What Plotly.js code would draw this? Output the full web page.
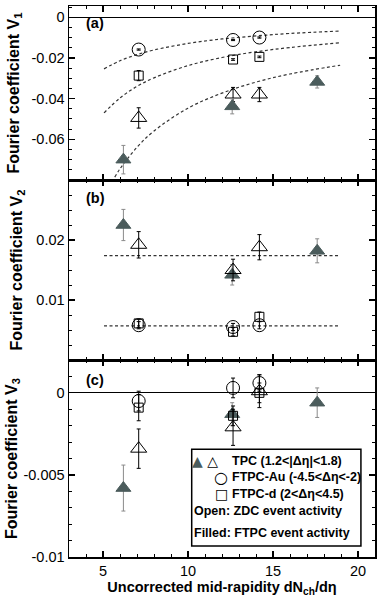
<!DOCTYPE html>
<html>
<head>
<meta charset="utf-8">
<script src="https://cdn.plot.ly/plotly-3.0.1.min.js"></script>
<style>html,body{margin:0;padding:0;background:#fff;}#chart{width:384px;height:600px;}</style>
</head>
<body>
<div id="chart"></div>
<script>
// ---- data ----
const filledX = [6.2, 12.6, 17.6];          // TPC, FTPC event activity
const openX = [7.1, 12.65, 14.2];           // ZDC event activity

const v1TpcFilled = [-0.0700, -0.0438, -0.0318];
const v1TpcFilledErr = [0.0070, 0.0037, 0.0030];
const v1TpcOpen = [-0.0495, -0.0380, -0.0380];
const v1TpcOpenErr = [0.0050, 0.0035, 0.0035];
const v1Au = [-0.0159, -0.0112, -0.0100];
const v1AuErr = [0.0003, 0.0003, 0.0003];
const v1D = [-0.0287, -0.0208, -0.0195];
const v1DErr = [0.0025, 0.0004, 0.0004];

const v2TpcFilled = [0.0225, 0.0142, 0.0182];
const v2TpcFilledErr = [0.0026, 0.0017, 0.0020];
const v2TpcOpen = [0.0192, 0.0150, 0.0188];
const v2TpcOpenErr = [0.0022, 0.0018, 0.0021];
const v2Au = [0.0058, 0.0055, 0.0058];
const v2AuErr = [0.0006, 0.0006, 0.0006];
const v2D = [0.0061, 0.0047, 0.0072];
const v2DErr = [0.0007, 0.0007, 0.0008];

const v3TpcFilled = [-0.0058, -0.0013, -0.0006];
const v3TpcFilledErr = [0.0014, 0.0007, 0.0009];
const v3TpcOpen = [-0.0034, -0.0021, 0.0001];
const v3TpcOpenErr = [0.0012, 0.0011, 0.0010];
const v3Au = [-0.0005, 0.0003, 0.0006];
const v3AuErr = [0.0006, 0.0006, 0.0005];
const v3D = [-0.0009, -0.0014, 0.0000];
const v3DErr = [0.0008, 0.0006, 0.0006];

// dashed fit curves in panel (a)
const fitX = [5.06, 6, 7, 8, 10, 12, 14, 16, 18.95];
const fitAu = [-0.0254, -0.0214, -0.0184, -0.0161, -0.0129, -0.0107, -0.0092, -0.0080, -0.0068];
const fitD = [-0.0470, -0.0397, -0.0340, -0.0298, -0.0238, -0.0198, -0.0170, -0.0149, -0.0126];
const fitTpcX = [5.69, 6, 7, 8, 10, 12, 14, 16, 18.95];
const fitTpc = [-0.0786, -0.0745, -0.0639, -0.0559, -0.0447, -0.0373, -0.0319, -0.0279, -0.0236];
// constant fits in panel (b)
const constX = [5.06, 18.95];
const constTpc = [0.0174, 0.0174];
const constFtpc = [0.0057, 0.0057];

// tick labels
const xTicks = [5, 10, 15, 20];
const y1Ticks = [0, -0.02, -0.04, -0.06];
const y1Text = ['0', '-0.02', '-0.04', '-0.06'];
const y2Ticks = [0.01, 0.02];
const y2Text = ['0.01', '0.02'];
const y3Ticks = [0, -0.005, -0.01];
const y3Text = ['0', '-0.005', '-0.01'];

// ---- styling ----
const FONT = 'Liberation Sans, Arial, Helvetica, sans-serif';
const FILL = '#4b5c5c';
const ERRGRAY = '#8a8a8a';

function fitTrace(x, y, xa, ya, shape) {
  return {x: x, y: y, xaxis: xa, yaxis: ya, mode: 'lines', type: 'scatter',
    line: {color: '#333', width: 1.2, dash: '3px,2.5px', shape: shape || 'linear'},
    hoverinfo: 'skip', showlegend: false};
}
function pts(x, y, err, xa, ya, symbol, size, color, errColor) {
  return {x: x, y: y, xaxis: xa, yaxis: ya, mode: 'markers', type: 'scatter',
    error_y: {type: 'data', array: err, visible: true, color: errColor, thickness: 1, width: 2},
    marker: {symbol: symbol, size: size, color: color, line: {width: 1, color: color}},
    showlegend: false};
}

const traces = [
  // panel (a): x3 / y3
  fitTrace(fitX, fitAu, 'x3', 'y3', 'spline'),
  fitTrace(fitX, fitD, 'x3', 'y3', 'spline'),
  fitTrace(fitTpcX, fitTpc, 'x3', 'y3', 'spline'),
  pts(openX, v1Au, v1AuErr, 'x3', 'y3', 'circle-open', 13, '#000', '#000'),
  pts(openX, v1D, v1DErr, 'x3', 'y3', 'square-open', 9, '#000', '#000'),
  pts(openX, v1TpcOpen, v1TpcOpenErr, 'x3', 'y3', 'triangle-up-open', 14, '#000', '#000'),
  pts(filledX, v1TpcFilled, v1TpcFilledErr, 'x3', 'y3', 'triangle-up', 13, FILL, ERRGRAY),
  // panel (b): x2 / y2
  fitTrace(constX, constTpc, 'x2', 'y2'),
  fitTrace(constX, constFtpc, 'x2', 'y2'),
  pts(filledX, v2TpcFilled, v2TpcFilledErr, 'x2', 'y2', 'triangle-up', 13, FILL, ERRGRAY),
  pts(openX, v2Au, v2AuErr, 'x2', 'y2', 'circle-open', 13, '#000', '#000'),
  pts(openX, v2D, v2DErr, 'x2', 'y2', 'square-open', 9, '#000', '#000'),
  pts(openX, v2TpcOpen, v2TpcOpenErr, 'x2', 'y2', 'triangle-up-open', 14, '#000', '#000'),
  // panel (c): x / y
  pts(filledX, v3TpcFilled, v3TpcFilledErr, 'x', 'y', 'triangle-up', 13, FILL, ERRGRAY),
  pts(openX, v3TpcOpen, v3TpcOpenErr, 'x', 'y', 'triangle-up-open', 14, '#000', '#000'),
  pts(openX, v3Au, v3AuErr, 'x', 'y', 'circle-open', 13, '#000', '#000'),
  pts(openX, v3D, v3DErr, 'x', 'y', 'square-open', 9, '#000', '#000')
];

const dA = [0.6842, 1.0], dB = [0.3575, 0.6842], dC = [0, 0.3575];

function xAxis(showLabels, anchor) {
  return {range: [3, 21], anchor: anchor, tickvals: xTicks, ticktext: xTicks.map(String),
    showticklabels: showLabels, ticks: 'inside', ticklen: 6, tickwidth: 1.2, tickcolor: '#000',
    minor: {dtick: 1, ticks: 'inside', ticklen: 3, tickwidth: 1, tickcolor: '#000', showgrid: false},
    showline: true, linecolor: '#000', linewidth: 1.5, mirror: 'allticks',
    showgrid: false, zeroline: false, tickfont: {family: FONT, size: 14.5, color: '#000'}};
}
function yAxis(domain, range, tv, tt, minorDt, title, standoff, anchor) {
  return {domain: domain, range: range, anchor: anchor, tickvals: tv, ticktext: tt,
    ticks: 'inside', ticklen: 6, tickwidth: 1.2, tickcolor: '#000',
    minor: {dtick: minorDt, tick0: 0, ticks: 'inside', ticklen: 3, tickwidth: 1, tickcolor: '#000', showgrid: false},
    showline: true, linecolor: '#000', linewidth: 1.5, mirror: 'allticks',
    showgrid: false, zeroline: true, zerolinecolor: '#000', zerolinewidth: 1,
    tickfont: {family: FONT, size: 14.5, color: '#000'},
    title: {text: title, standoff: standoff, font: {family: FONT, size: 16, color: '#000', weight: 'bold'}}};
}

const layout = {
  width: 384, height: 600,
  margin: {l: 69, r: 9, t: 6, b: 43},
  paper_bgcolor: '#fff', plot_bgcolor: '#fff',
  showlegend: false,
  xaxis: Object.assign(xAxis(true, 'y'), {
    title: {text: 'Uncorrected mid-rapidity dN<sub>ch</sub>/dη', standoff: 4,
      font: {family: FONT, size: 14.5, color: '#000', weight: 'bold'}}}),
  xaxis2: Object.assign(xAxis(false, 'y2'), {matches: 'x'}),
  xaxis3: Object.assign(xAxis(false, 'y3'), {matches: 'x'}),
  yaxis: yAxis(dC, [-0.01, 0.002], y3Ticks, y3Text, 0.001, 'Fourier coefficient V<sub>3</sub>', 2, 'x'),
  yaxis2: yAxis(dB, [0, 0.03], y2Ticks, y2Text, 0.0025, 'Fourier coefficient V<sub>2</sub>', 10, 'x2'),
  yaxis3: yAxis(dA, [-0.08, 0.0055], y1Ticks, y1Text, 0.005, 'Fourier coefficient V<sub>1</sub>', 8, 'x3'),
  shapes: [
    {type: 'rect', xref: 'paper', yref: 'paper', x0: 0.401, x1: 0.954, y0: 0.020, y1: 0.1955,
      line: {color: '#000', width: 1.5}, fillcolor: '#fff', layer: 'above'}
  ],
  annotations: [
    {text: '<b>(a)</b>', xref: 'paper', yref: 'paper', x: 0.05, y: 0.969, xanchor: 'left', yanchor: 'middle', showarrow: false, font: {family: FONT, size: 14.5, color: '#000'}},
    {text: '<b>(b)</b>', xref: 'paper', yref: 'paper', x: 0.05, y: 0.651, xanchor: 'left', yanchor: 'middle', showarrow: false, font: {family: FONT, size: 14.5, color: '#000'}},
    {text: '<b>(c)</b>', xref: 'paper', yref: 'paper', x: 0.05, y: 0.321, xanchor: 'left', yanchor: 'middle', showarrow: false, font: {family: FONT, size: 14.5, color: '#000'}},
    // legend
    {text: '<span style="color:' + FILL + '">▲</span> △', xref: 'paper', yref: 'paper', x: 0.396, y: 0.1745, xanchor: 'left', yanchor: 'middle', showarrow: false, font: {family: 'DejaVu Sans', size: 14, color: '#000'}},
    {text: '○', xref: 'paper', yref: 'paper', x: 0.466, y: 0.1445, xanchor: 'left', yanchor: 'middle', showarrow: false, font: {family: 'DejaVu Sans', size: 16, color: '#000'}},
    {text: '□', xref: 'paper', yref: 'paper', x: 0.47, y: 0.114, xanchor: 'left', yanchor: 'middle', showarrow: false, font: {family: 'DejaVu Sans', size: 14, color: '#000'}},
    {text: '<b>TPC (1.2<|Δη|<1.8)</b>', xref: 'paper', yref: 'paper', x: 0.526, y: 0.1745, xanchor: 'left', yanchor: 'middle', showarrow: false, font: {family: FONT, size: 12.5, color: '#000'}},
    {text: '<b>FTPC-Au (-4.5<Δη<-2)</b>', xref: 'paper', yref: 'paper', x: 0.526, y: 0.1445, xanchor: 'left', yanchor: 'middle', showarrow: false, font: {family: FONT, size: 12.5, color: '#000'}},
    {text: '<b>FTPC-d (2<Δη<4.5)</b>', xref: 'paper', yref: 'paper', x: 0.526, y: 0.114, xanchor: 'left', yanchor: 'middle', showarrow: false, font: {family: FONT, size: 12.5, color: '#000'}},
    {text: '<b>Open: ZDC event activity</b>', xref: 'paper', yref: 'paper', x: 0.403, y: 0.084, xanchor: 'left', yanchor: 'middle', showarrow: false, font: {family: FONT, size: 12.5, color: '#000'}},
    {text: '<b>Filled: FTPC event activity</b>', xref: 'paper', yref: 'paper', x: 0.403, y: 0.0435, xanchor: 'left', yanchor: 'middle', showarrow: false, font: {family: FONT, size: 12.5, color: '#000'}}
  ]
};

Plotly.newPlot('chart', traces, layout, {displayModeBar: false, staticPlot: true});
</script>
</body>
</html>
